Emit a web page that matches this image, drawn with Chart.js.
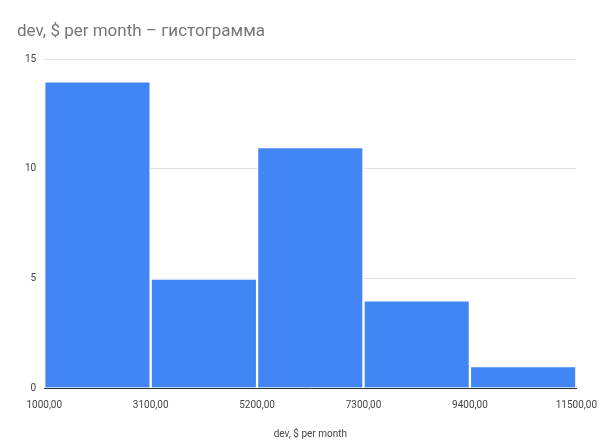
<!DOCTYPE html>
<html><head><meta charset="utf-8">
<script src="https://cdn.jsdelivr.net/npm/chart.js@4"></script>
<style>html,body{margin:0;padding:0;background:#fff}#w{width:600px;height:448px}</style>
</head><body><div id="w"><canvas id="c" width="600" height="448"></canvas></div>
<script>
const binEdges = [1000, 3100, 5200, 7300, 9400, 11500];
const counts = [14, 5, 11, 4, 1];
const yTicks = [0, 5, 10, 15];
const titleText = 'dev, $ per month – гистограмма';
const xTitle = 'dev, $ per month';

const pts = counts.map((v, i) => ({x: (binEdges[i] + binEdges[i + 1]) / 2, y: v}));
new Chart(document.getElementById('c'), {
  type: 'bar',
  data: {datasets: [{data: pts, backgroundColor: '#4285f4', borderColor: '#ffffff', borderWidth: 1.5, borderSkipped: 'bottom',
    barPercentage: 1, categoryPercentage: 1}]},
  options: {
    responsive: false, animation: false,
    layout: {padding: {left: 17, right: 20, top: 4, bottom: 4}},
    plugins: {
      legend: {display: false}, tooltip: {enabled: false},
      title: {display: true, text: titleText, align: 'start', color: '#757575',
        font: {family: 'Roboto', size: 17, weight: 'normal'}, padding: {top: 18, bottom: 17}}
    },
    scales: {
      x: {type: 'linear', offset: false, min: binEdges[0], max: binEdges[binEdges.length - 1],
        afterBuildTicks: s => { s.ticks = binEdges.map(v => ({value: v})); },
        ticks: {color: '#444', font: {family: 'Roboto', size: 10}, maxRotation: 0,
          callback: v => v.toFixed(2).replace('.', ',')},
        grid: {display: false}, border: {color: '#333'},
        title: {display: true, text: xTitle, color: '#444', font: {family: 'Roboto', size: 10}, padding: {top: 14}}
      },
      y: {min: 0, max: 15,
        afterBuildTicks: s => { s.ticks = yTicks.map(v => ({value: v})); },
        ticks: {color: '#444', font: {family: 'Roboto', size: 10}, padding: 8},
        grid: {color: '#e0e0e0', drawTicks: false}, border: {display: false}
      }
    }
  }
});
</script></body></html>
